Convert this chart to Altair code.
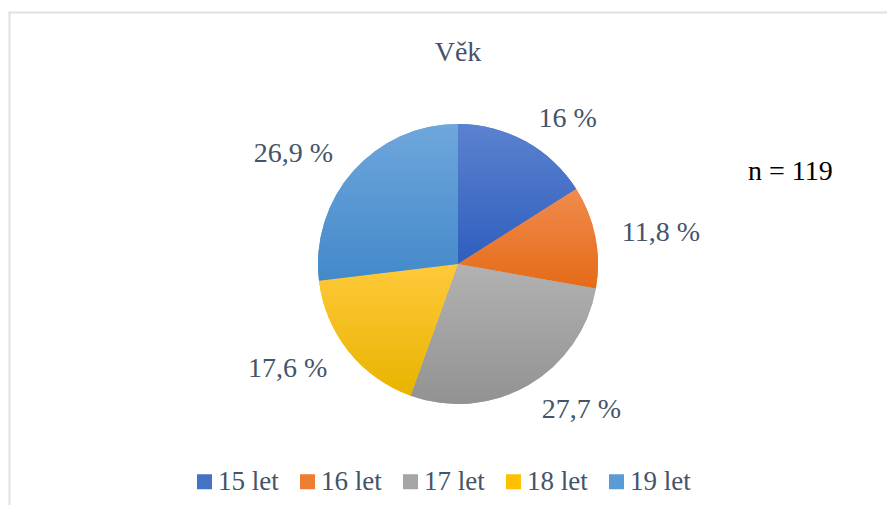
import altair as alt
import pandas as pd

# ---- data ----
categories = ["15 let", "16 let", "17 let", "18 let", "19 let"]
percent = [16.0, 11.8, 27.7, 17.6, 26.9]
labels = ["16 %", "11,8 %", "27,7 %", "17,6 %", "26,9 %"]
title_text = "Věk"
note_text = "n = 119"

# ---- styles ----
mid_colors = ["#4472C4", "#ED7D31", "#A5A5A5", "#FFC000", "#5B9BD5"]
grad_top = ["#5B82D0", "#F18B4E", "#B2B2B2", "#FFC93A", "#6EA7DC"]
grad_bot = ["#2F5EBD", "#E46B17", "#929292", "#E8B400", "#4389CA"]
TEXT = "#44546A"
FONT = "Liberation Serif"
W, H = 879, 497
CX, CY, R = 450, 256, 140

df = pd.DataFrame({
    "idx": list(range(len(categories))),
    "category": categories,
    "value": percent,
    "label": labels,
})

theta_scale = alt.Scale(domain=[0, 100])
base = alt.Chart(df)


def cum(ch):
    return ch.transform_window(
        cum="sum(value)", sort=[alt.SortField("idx")], frame=[None, 0]
    ).transform_calculate(
        start="datum.cum - datum.value", mid="datum.cum - datum.value / 2"
    )


# base arc layer (provides legend)
pie = base.mark_arc(outerRadius=R).encode(
    theta=alt.Theta("value:Q", stack=True, scale=theta_scale),
    order=alt.Order("idx:Q"),
    color=alt.Color(
        "category:N",
        scale=alt.Scale(domain=categories, range=mid_colors),
        legend=alt.Legend(
            orient="none", direction="horizontal", legendX=183, legendY=460,
            title=None, symbolType="square", symbolSize=225, symbolStrokeWidth=0,
            labelFont=FONT, labelFontSize=27, labelColor=TEXT, labelOffset=0,
            columnPadding=15, padding=0,
        ),
    ),
    x=alt.value(CX), y=alt.value(CY),
)

layers = [pie]
for i, cat in enumerate(categories):
    g = alt.Gradient(
        gradient="linear",
        stops=[alt.GradientStop(color=grad_top[i], offset=0),
               alt.GradientStop(color=grad_bot[i], offset=1)],
        x1=0, x2=0, y1=0, y2=1,
    )
    layers.append(
        cum(base).transform_filter(alt.datum.category == cat)
        .mark_arc(outerRadius=R, fill=g)
        .encode(
            theta=alt.Theta("start:Q", stack=None, scale=theta_scale),
            theta2="cum:Q",
            x=alt.value(CX), y=alt.value(CY),
        )
    )

for cond, align in [("datum.mid < 50", "left"), ("datum.mid >= 50", "right")]:
    layers.append(
        cum(base).transform_filter(cond)
        .mark_text(radius=167, align=align, baseline="middle", font=FONT,
                   fontSize=28, color=TEXT, dy=1)
        .encode(
            theta=alt.Theta("mid:Q", stack=None, scale=theta_scale),
            text="label:N",
            x=alt.value(CX), y=alt.value(CY),
        )
    )

title = alt.Chart(pd.DataFrame({"t": [title_text]})).mark_text(
    font=FONT, fontSize=28, color=TEXT, align="center", baseline="alphabetic"
).encode(text="t:N", x=alt.value(CX), y=alt.value(53))

note = alt.Chart(pd.DataFrame({"t": [note_text]})).mark_text(
    font=FONT, fontSize=28, color="#000000", align="left", baseline="alphabetic"
).encode(text="t:N", x=alt.value(740), y=alt.value(172))

border_left = alt.Chart(pd.DataFrame({"a": [0]})).mark_rule(
    color="#DDE1E6", strokeWidth=2
).encode(x=alt.value(1.5), y=alt.value(4), y2=alt.value(H))

border_top = alt.Chart(pd.DataFrame({"a": [0]})).mark_rule(
    color="#DDE1E6", strokeWidth=2
).encode(x=alt.value(0.5), x2=alt.value(W), y=alt.value(4.5))

chart = alt.layer(border_left, border_top, *layers, title, note).properties(
    width=W, height=H, padding=0,
    autosize=alt.AutoSizeParams(type="none"),
).configure_view(stroke=None)

chart.save("out.html", embed_options={"renderer": "svg", "actions": False})
